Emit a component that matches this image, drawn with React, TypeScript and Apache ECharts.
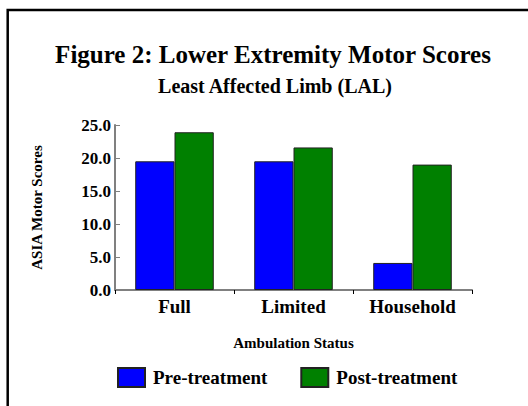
import React, { useEffect, useRef } from "react";
import * as echarts from "echarts";

const categories = ["Full", "Limited", "Household"];
const preTreatment = [19.5, 19.5, 4.1];
const postTreatment = [23.9, 21.6, 19.0];
const yTicks = { min: 0, max: 25, interval: 5 };

const FONT = "'Liberation Serif', 'Times New Roman', serif";

export default function App() {
  const ref = useRef<HTMLDivElement>(null);
  useEffect(() => {
    document.body.style.margin = "0";
    const chart = echarts.init(ref.current!, null, { renderer: "svg" });
    chart.setOption({
      animation: false,
      backgroundColor: "#ffffff",
      textStyle: { fontFamily: FONT, fontWeight: "bold", color: "#000" },
      title: [
        {
          text: "Figure 2: Lower Extremity Motor Scores",
          left: 268,
          top: 37,
          textAlign: "center",
          textStyle: { fontFamily: FONT, fontWeight: "bold", fontSize: 25, color: "#000" },
        },
        {
          text: "Least Affected Limb (LAL)",
          left: 270,
          top: 71,
          textAlign: "center",
          textStyle: { fontFamily: FONT, fontWeight: "bold", fontSize: 20, color: "#000" },
        },
      ],
      graphic: [
        {
          type: "polyline",
          shape: { points: [[7.7, 406], [7.7, 10], [528, 10]] },
          style: { stroke: "#000", lineWidth: 2.5, fill: "none" },
        },
      ],
      legend: {
        left: 112,
        top: 362,
        itemWidth: 27,
        itemHeight: 19,
        itemGap: 33,
        icon: "rect",
        data: ["Pre-treatment", "Post-treatment"],
        textStyle: { fontFamily: FONT, fontWeight: "bold", fontSize: 19, color: "#000", padding: [0, 0, 0, 3] },
      },
      grid: { left: 115, top: 125, right: 56, bottom: 116, containLabel: false },
      xAxis: {
        type: "category",
        data: categories,
        name: "Ambulation Status",
        nameLocation: "middle",
        nameGap: 45,
        nameTextStyle: { fontFamily: FONT, fontWeight: "bold", fontSize: 15, color: "#000" },
        axisLine: { lineStyle: { color: "#808080", width: 2 } },
        axisTick: { show: true, length: 4, lineStyle: { color: "#000", width: 1 } },
        axisLabel: { fontFamily: FONT, fontWeight: "bold", fontSize: 19, color: "#000", margin: 7 },
      },
      yAxis: {
        type: "value",
        min: yTicks.min,
        max: yTicks.max,
        interval: yTicks.interval,
        name: "ASIA Motor Scores",
        nameLocation: "middle",
        nameGap: 71,
        nameRotate: 90,
        nameTextStyle: { fontFamily: FONT, fontWeight: "bold", fontSize: 15, color: "#000" },
        splitLine: { show: false },
        axisLine: { show: true, lineStyle: { color: "#808080", width: 2 } },
        axisTick: { show: true, inside: true, length: 5, lineStyle: { color: "#808080", width: 1 } },
        axisLabel: {
          fontFamily: FONT,
          fontWeight: "bold",
          fontSize: 17,
          color: "#000",
          margin: 4,
          formatter: (v: number) => v.toFixed(1),
        },
      },
      series: [
        {
          name: "Pre-treatment",
          type: "bar",
          data: preTreatment,
          barGap: "0%",
          barCategoryGap: "34%",
          itemStyle: { color: "#0000ff", borderColor: "#222", borderWidth: 1 },
        },
        {
          name: "Post-treatment",
          type: "bar",
          data: postTreatment,
          barGap: "0%",
          barCategoryGap: "34%",
          itemStyle: { color: "#008000", borderColor: "#222", borderWidth: 1 },
        },
      ],
    });
    return () => chart.dispose();
  }, []);
  return <div ref={ref} style={{ width: 528, height: 406 }} />;
}
